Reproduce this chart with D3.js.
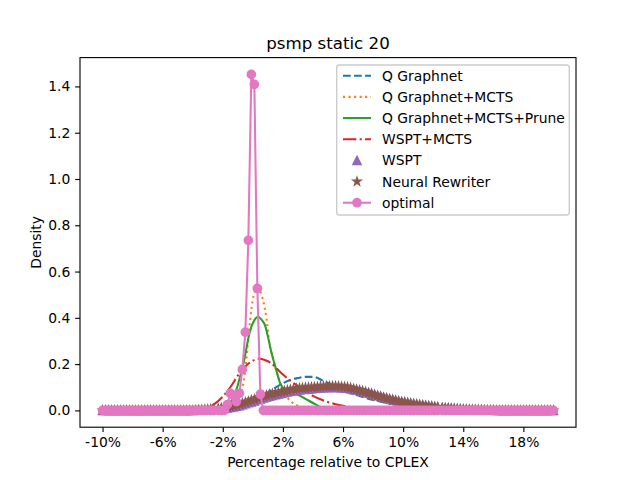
<!DOCTYPE html>
<html>
<head>
<meta charset="utf-8">
<script src="https://cdn.jsdelivr.net/npm/d3@7"></script>
<style>
    body { margin: 0; background: #fff; }
    svg text { font-family: "DejaVu Sans", sans-serif; fill: #000; }
</style>
</head>
<body>
<svg id="chart" width="640" height="480"></svg>
<script>
'use strict';

// sample grid shared by the marker series (percent relative to CPLEX)
var xGrid = [
    -10, -9.8, -9.6, -9.4, -9.2, -9, -8.8, -8.6, -8.4, -8.2,
    -8, -7.8, -7.6, -7.4, -7.2, -7, -6.8, -6.6, -6.4, -6.2,
    -6, -5.8, -5.6, -5.4, -5.2, -5, -4.8, -4.6, -4.4, -4.2,
    -4, -3.8, -3.6, -3.4, -3.2, -3, -2.8, -2.6, -2.3, -2.1,
    -1.9, -1.7, -1.5, -1.3, -1.1, -0.9, -0.7, -0.5, -0.3, -0.1,
    0.1, 0.3, 0.5, 0.7, 0.9, 1.1, 1.3, 1.5, 1.7, 1.9,
    2.1, 2.3, 2.5, 2.7, 2.9, 3.1, 3.3, 3.5, 3.7, 3.9,
    4.1, 4.3, 4.5, 4.7, 4.9, 5.1, 5.3, 5.5, 5.7, 5.9,
    6.1, 6.3, 6.5, 6.7, 6.9, 7.1, 7.3, 7.5, 7.7, 7.9,
    8.1, 8.3, 8.5, 8.7, 8.9, 9.1, 9.3, 9.5, 9.7, 9.9,
    10.1, 10.3, 10.5, 10.7, 10.9, 11.1, 11.3, 11.5, 11.7, 11.9,
    12.1, 12.3, 12.6, 12.8, 13, 13.2, 13.4, 13.6, 13.8, 14,
    14.2, 14.4, 14.6, 14.8, 15, 15.2, 15.4, 15.6, 15.8, 16,
    16.2, 16.4, 16.6, 16.8, 17, 17.2, 17.4, 17.6, 17.8, 18,
    18.2, 18.4, 18.6, 18.8, 19, 19.2, 19.4, 19.6, 19.8, 20
];

var wsptValues = [
    0, 0, 0, 0, 0, 0, 0, 0, 0, 0,
    0, 0, 0, 0, 0, 0, 0, 0, 0, 0,
    0, 0, 0, 0, 0, 0, 0, 0, 0, 0,
    0, 0.001, 0.001, 0.002, 0.002, 0.003, 0.004, 0.005, 0.006, 0.007,
    0.009, 0.011, 0.013, 0.015, 0.018, 0.021, 0.025, 0.029, 0.033, 0.037,
    0.041, 0.046, 0.050, 0.054, 0.058, 0.062, 0.065, 0.068, 0.071, 0.074,
    0.077, 0.080, 0.083, 0.085, 0.087, 0.089, 0.091, 0.092, 0.093, 0.094,
    0.095, 0.096, 0.097, 0.098, 0.099, 0.099, 0.099, 0.099, 0.099, 0.098,
    0.097, 0.096, 0.094, 0.091, 0.089, 0.086, 0.083, 0.080, 0.076, 0.073,
    0.069, 0.065, 0.061, 0.057, 0.054, 0.050, 0.047, 0.044, 0.041, 0.038,
    0.036, 0.033, 0.031, 0.029, 0.027, 0.025, 0.023, 0.021, 0.019, 0.018,
    0.016, 0.015, 0.012, 0.011, 0.010, 0.009, 0.008, 0.007, 0.006, 0.005,
    0.004, 0.004, 0.003, 0.003, 0.002, 0.002, 0.002, 0.001, 0.001, 0.001,
    0, 0, 0, 0, 0, 0, 0, 0, 0, 0,
    0, 0, 0, 0, 0, 0, 0, 0, 0, 0
];

var rewriterValues = [
    0, 0, 0, 0, 0, 0, 0, 0, 0, 0,
    0, 0, 0, 0, 0, 0, 0, 0, 0, 0,
    0, 0, 0, 0, 0, 0, 0, 0, 0, 0,
    0, 0.001, 0.002, 0.002, 0.003, 0.004, 0.005, 0.006, 0.008, 0.010,
    0.012, 0.014, 0.017, 0.020, 0.023, 0.027, 0.031, 0.035, 0.039, 0.044,
    0.048, 0.053, 0.057, 0.061, 0.065, 0.069, 0.072, 0.075, 0.078, 0.081,
    0.084, 0.087, 0.090, 0.092, 0.094, 0.096, 0.097, 0.098, 0.099, 0.100,
    0.101, 0.102, 0.103, 0.104, 0.105, 0.105, 0.105, 0.105, 0.104, 0.103,
    0.102, 0.100, 0.097, 0.093, 0.090, 0.086, 0.083, 0.079, 0.075, 0.071,
    0.067, 0.063, 0.059, 0.055, 0.052, 0.048, 0.045, 0.042, 0.039, 0.036,
    0.034, 0.032, 0.030, 0.028, 0.026, 0.024, 0.022, 0.020, 0.018, 0.017,
    0.015, 0.014, 0.011, 0.010, 0.009, 0.008, 0.007, 0.006, 0.005, 0.004,
    0.004, 0.003, 0.003, 0.002, 0.002, 0.002, 0.001, 0.001, 0.001, 0.001,
    0, 0, 0, 0, 0, 0, 0, 0, 0, 0,
    0, 0, 0, 0, 0, 0, 0, 0, 0, 0
];

var optimalValues = [
    0, 0, 0, 0, 0, 0, 0, 0, 0, 0,
    0, 0, 0, 0, 0, 0, 0, 0, 0, 0,
    0, 0, 0, 0, 0, 0, 0, 0, 0, 0,
    0, 0, 0, 0, 0, 0, 0, 0, 0, 0,
    0, 0.025, 0.074, 0.066, 0.038, 0.074, 0.177, 0.338, 0.735, 1.452,
    1.409, 0.527, 0.07, 0, 0, 0, 0, 0, 0, 0,
    0, 0, 0, 0, 0, 0, 0, 0, 0, 0,
    0, 0, 0, 0, 0, 0, 0, 0, 0, 0,
    0, 0, 0, 0, 0, 0, 0, 0, 0, 0,
    0, 0, 0, 0, 0, 0, 0, 0, 0, 0,
    0, 0, 0, 0, 0, 0, 0, 0, 0, 0,
    0, 0, 0, 0, 0, 0, 0, 0, 0, 0,
    0, 0, 0, 0, 0, 0, 0, 0, 0, 0,
    0, 0, 0, 0, 0, 0, 0, 0, 0, 0,
    0, 0, 0, 0, 0, 0, 0, 0, 0, 0
];

// density curves drawn as lines, read at their own x positions
var qGraphnetX = [-10, -3, -2, -1, 0, 1, 2, 2.5, 3, 3.5, 4, 4.7, 5.3, 5.8, 6.9, 8, 9, 10, 11, 12, 13, 14, 15, 20];
var qGraphnetY = [0, 0, 0.003, 0.012, 0.038, 0.078, 0.117, 0.132, 0.14, 0.145, 0.145, 0.127, 0.108, 0.09, 0.066, 0.045, 0.031, 0.021, 0.013, 0.007, 0.003, 0.001, 0, 0];

var mctsX = [-10, -2.5, -2, -1.5, -1.2, -1, -0.8, -0.6, -0.4, -0.2, 0, 0.2, 0.35, 0.5, 0.7, 0.9, 1.1, 1.3, 1.5, 1.7, 2, 2.3, 2.6, 3, 3.5, 4, 5, 6, 20];
var mctsY = [0, 0, 0.003, 0.01, 0.025, 0.04, 0.07, 0.13, 0.24, 0.38, 0.48, 0.52, 0.53, 0.515, 0.47, 0.4, 0.29, 0.235, 0.185, 0.14, 0.09, 0.055, 0.035, 0.02, 0.01, 0.005, 0.001, 0, 0];

var pruneX = [-10, -2.5, -2, -1.6, -1.3, -1, -0.6, -0.2, 0.1, 0.35, 0.6, 0.8, 1, 1.2, 1.4, 1.6, 1.8, 2, 2.25, 2.6, 3, 3.5, 4, 4.5, 5, 6, 7, 20];
var pruneY = [0, 0, 0.008, 0.025, 0.055, 0.11, 0.21, 0.34, 0.39, 0.405, 0.39, 0.37, 0.32, 0.26, 0.21, 0.165, 0.12, 0.097, 0.08, 0.074, 0.068, 0.05, 0.032, 0.015, 0.006, 0.001, 0, 0];

var wsptMctsX = [-10, -4, -3.5, -3, -2.5, -2, -1.5, -1, -0.5, 0, 0.4, 0.8, 1.2, 1.6, 2, 2.5, 3, 3.5, 4, 4.5, 5, 5.5, 6, 7, 8, 9, 10, 20];
var wsptMctsY = [0, 0, 0.004, 0.012, 0.03, 0.06, 0.1, 0.15, 0.19, 0.215, 0.223, 0.218, 0.205, 0.18, 0.155, 0.128, 0.105, 0.082, 0.063, 0.048, 0.036, 0.027, 0.02, 0.01, 0.004, 0.001, 0, 0];

var xTicks = [-10, -6, -2, 2, 6, 10, 14, 18];
var yTicks = [0, 0.2, 0.4, 0.6, 0.8, 1.0, 1.2, 1.4];

var seriesNames = ['Q Graphnet', 'Q Graphnet+MCTS', 'Q Graphnet+MCTS+Prune', 'WSPT+MCTS', 'WSPT', 'Neural Rewriter', 'optimal'];

(function(){
    var svg = d3.select('#chart'),
        pt = 100 / 72,
        left = 80, right = 576, top = 57.6, bottom = 427.2,
        lw = 1.5 * pt,
        ms = 6 * pt,
        fontSize = 10 * pt;

    function zip( xs, ys ){
        return xs.map( function( v, i ){ return [ v, ys[i] ]; } );
    }

    var xMin = d3.min( xGrid ), xMax = d3.max( xGrid ),
        yMax = d3.max( optimalValues ),
        xPad = ( xMax - xMin ) * 0.05,
        yPad = yMax * 0.05;

    var x = d3.scaleLinear().domain( [ xMin - xPad, xMax + xPad ] ).range( [ left, right ] ),
        y = d3.scaleLinear().domain( [ -yPad, yMax + yPad ] ).range( [ bottom, top ] );

    var styles = [
        { color: '#1f77b4', dash: [ 3.7 * lw, 1.6 * lw ], data: zip( qGraphnetX, qGraphnetY ) },
        { color: '#ff7f0e', dash: [ 1 * lw, 1.65 * lw ], data: zip( mctsX, mctsY ) },
        { color: '#2ca02c', dash: null, data: zip( pruneX, pruneY ) },
        { color: '#d62728', dash: [ 6.4 * lw, 1.6 * lw, 1 * lw, 1.6 * lw ], data: zip( wsptMctsX, wsptMctsY ) },
        { color: '#9467bd', marker: 'triangle', data: zip( xGrid, wsptValues ) },
        { color: '#8c564b', marker: 'star', data: zip( xGrid, rewriterValues ) },
        { color: '#e377c2', marker: 'circle', line: true, data: zip( xGrid, optimalValues ) }
    ];

    var half = ms / 2,
        trianglePath = 'M0,' + (-half) + 'L' + half + ',' + half + 'L' + (-half) + ',' + half + 'Z',
        starPath = d3.symbol( d3.symbolStar, half * half / 0.8908130915292852 )(),
        circlePath = d3.symbol( d3.symbolCircle, Math.PI * half * half )();

    function markerPath( kind ){
        if( kind === 'triangle' ){ return trianglePath; }
        if( kind === 'star' ){ return starPath; }
        return circlePath;
    }

    var smooth = d3.line()
        .x( function( d ){ return x( d[0] ); } )
        .y( function( d ){ return y( d[1] ); } )
        .curve( d3.curveMonotoneX );

    var straight = d3.line()
        .x( function( d ){ return x( d[0] ); } )
        .y( function( d ){ return y( d[1] ); } );

    var plot = svg.append( 'g' );

    styles.forEach( function( s ){
        if( !s.marker ){
            plot.append( 'path' )
                .attr( 'd', smooth( s.data ) )
                .attr( 'fill', 'none' )
                .attr( 'stroke', s.color )
                .attr( 'stroke-width', lw )
                .attr( 'stroke-dasharray', s.dash ? s.dash.join( ',' ) : null );
            return;
        }

        if( s.line ){
            plot.append( 'path' )
                .attr( 'd', straight( s.data ) )
                .attr( 'fill', 'none' )
                .attr( 'stroke', s.color )
                .attr( 'stroke-width', lw )
                .attr( 'stroke-linejoin', 'round' );
        }

        plot.append( 'g' )
            .selectAll( 'path' )
            .data( s.data )
            .enter().append( 'path' )
            .attr( 'd', markerPath( s.marker ) )
            .attr( 'transform', function( d ){ return 'translate(' + x( d[0] ) + ',' + y( d[1] ) + ')'; } )
            .attr( 'fill', s.color )
            .attr( 'stroke', s.color )
            .attr( 'stroke-width', pt );
    });

    // axes
    var xAxis = d3.axisBottom( x )
        .tickValues( xTicks )
        .tickFormat( function( d ){ return d + '%'; } )
        .tickSize( 3.5 * pt )
        .tickPadding( 3.5 * pt );

    var yAxis = d3.axisLeft( y )
        .tickValues( yTicks )
        .tickFormat( d3.format( '.1f' ) )
        .tickSize( 3.5 * pt )
        .tickPadding( 3.5 * pt );

    var gx = svg.append( 'g' ).attr( 'transform', 'translate(0,' + bottom + ')' ).call( xAxis );
    var gy = svg.append( 'g' ).attr( 'transform', 'translate(' + left + ',0)' ).call( yAxis );

    [ gx, gy ].forEach( function( g ){
        g.select( '.domain' ).remove();
        g.selectAll( 'line' ).attr( 'stroke', '#000' ).attr( 'stroke-width', 0.8 * pt );
        g.selectAll( 'text' )
            .style( 'font-family', '"DejaVu Sans", sans-serif' )
            .style( 'font-size', fontSize + 'px' )
            .attr( 'fill', '#000' );
    });

    svg.append( 'rect' )
        .attr( 'x', left ).attr( 'y', top )
        .attr( 'width', right - left ).attr( 'height', bottom - top )
        .attr( 'fill', 'none' )
        .attr( 'stroke', '#000' )
        .attr( 'stroke-width', 0.8 * pt );

    svg.append( 'text' )
        .attr( 'x', ( left + right ) / 2 ).attr( 'y', top - 6 * pt )
        .attr( 'text-anchor', 'middle' )
        .style( 'font-size', ( 12 * pt ) + 'px' )
        .text( 'psmp static 20' );

    svg.append( 'text' )
        .attr( 'x', ( left + right ) / 2 ).attr( 'y', 467 )
        .attr( 'text-anchor', 'middle' )
        .style( 'font-size', fontSize + 'px' )
        .text( 'Percentage relative to CPLEX' );

    svg.append( 'text' )
        .attr( 'transform', 'translate(41,' + ( ( top + bottom ) / 2 ) + ') rotate(-90)' )
        .attr( 'text-anchor', 'middle' )
        .style( 'font-size', fontSize + 'px' )
        .text( 'Density' );

    // legend
    var lx = 336.7, ly = 65, lwBox = 232.6, rowH = 21.17,
        legend = svg.append( 'g' );

    legend.append( 'rect' )
        .attr( 'x', lx ).attr( 'y', ly )
        .attr( 'width', lwBox ).attr( 'height', 150 )
        .attr( 'rx', 2.8 ).attr( 'ry', 2.8 )
        .attr( 'fill', '#fff' ).attr( 'fill-opacity', 0.8 )
        .attr( 'stroke', '#cccccc' ).attr( 'stroke-width', pt );

    seriesNames.forEach( function( name, i ){
        var s = styles[i],
            cy = 75.7 + i * rowH,
            hx0 = 343, hx1 = 371;

        if( !s.marker || s.line ){
            legend.append( 'line' )
                .attr( 'x1', hx0 ).attr( 'x2', hx1 )
                .attr( 'y1', cy ).attr( 'y2', cy )
                .attr( 'stroke', s.color )
                .attr( 'stroke-width', lw )
                .attr( 'stroke-dasharray', s.dash ? s.dash.join( ',' ) : null );
        }
        if( s.marker ){
            legend.append( 'path' )
                .attr( 'd', markerPath( s.marker ) )
                .attr( 'transform', 'translate(' + ( ( hx0 + hx1 ) / 2 ) + ',' + cy + ')' )
                .attr( 'fill', s.color )
                .attr( 'stroke', s.color )
                .attr( 'stroke-width', pt );
        }
        legend.append( 'text' )
            .attr( 'x', 382 ).attr( 'y', cy + 5 )
            .style( 'font-size', fontSize + 'px' )
            .text( name );
    });
})();
</script>
</body>
</html>
